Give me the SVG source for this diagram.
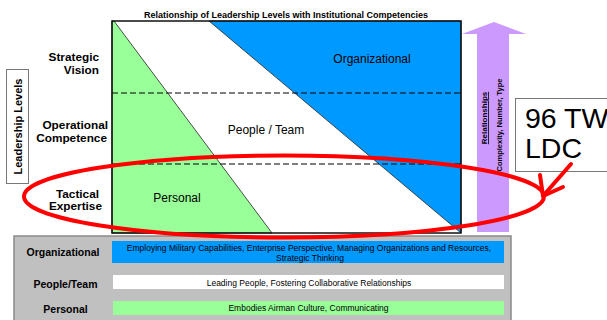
<svg xmlns="http://www.w3.org/2000/svg" width="607" height="320" viewBox="0 0 607 320">
<style>
.b{font-family:"Liberation Sans",Arial,sans-serif;font-weight:bold;fill:#000}
.r{font-family:"Liberation Sans",Arial,sans-serif;fill:#000}
.dash{stroke:#000;stroke-width:1;stroke-dasharray:6,3;fill:none}
.edge{stroke:#222;stroke-width:0.8}
.lv{font-size:11.8px}
.pt{font-size:8.5px}
</style>
<rect width="607" height="320" fill="#fff"/>
<g id="title"><text class="b" x="286" y="18" font-size="9" text-anchor="middle">Relationship of Leadership Levels with Institutional Competencies</text></g>
<g id="chart">
<rect x="112" y="21" width="349" height="212" fill="#fff"/>
<polygon points="112,21 114,21 272,233 112,233" fill="#99FF99" class="edge"/>
<polygon points="209,21 461,21 461,233" fill="#0099FF" class="edge"/>
<line class="dash" x1="112" y1="93" x2="461" y2="93"/>
<line class="dash" x1="112" y1="164" x2="461" y2="164"/>
<rect x="112" y="21" width="349" height="212" fill="none" stroke="#111" stroke-width="1.5"/>
<text class="r" x="372" y="63" font-size="12" text-anchor="middle">Organizational</text>
<text class="r" x="266" y="134" font-size="12" text-anchor="middle">People / Team</text>
<text class="r" x="177" y="202" font-size="12" text-anchor="middle">Personal</text>
</g>
<g id="levels">
<text class="b lv" x="99" y="61" text-anchor="end">Strategic</text>
<text class="b lv" x="99" y="74" text-anchor="end">Vision</text>
<text class="b lv" x="108" y="129" text-anchor="end">Operational</text>
<text class="b lv" x="107" y="142" text-anchor="end">Competence</text>
<text class="b lv" x="99" y="197.5" text-anchor="end">Tactical</text>
<text class="b lv" x="102" y="210" text-anchor="end">Expertise</text>
</g>
<g id="leadership-levels">
<rect x="6.5" y="69.5" width="22" height="114" fill="#fff" stroke="#777" stroke-width="1"/>
<text class="b" transform="translate(21.5,126.5) rotate(-90)" font-size="11" text-anchor="middle">Leadership Levels</text>
</g>
<g id="relationships">
<polygon points="494,22 526,34 509,34 509,232 477,232 477,34 462,34" fill="#CC99FF"/>
<text class="b" transform="translate(487,118) rotate(-90)" font-size="8" text-anchor="middle" text-decoration="underline">Relationships</text>
<text class="b" transform="translate(502,125) rotate(-90)" font-size="7.5" text-anchor="middle">Complexity, Number, Type</text>
</g>
<g id="panel">
<rect x="14" y="236" width="497" height="90" fill="#C0C0C0" stroke="#8a8a8a" stroke-width="1.5"/>
<text class="b" x="63" y="256" font-size="10.5" text-anchor="middle">Organizational</text>
<rect x="112" y="241" width="392" height="22" fill="#0099FF"/>
<text class="r pt" x="309" y="251" text-anchor="middle">Employing Military Capabilities, Enterprise Perspective, Managing Organizations  and Resources,</text>
<text class="r pt" x="310" y="261" text-anchor="middle">Strategic Thinking</text>
<text class="b" x="65.5" y="288" font-size="10.5" text-anchor="middle">People/Team</text>
<rect x="113" y="275" width="391" height="14" fill="#fff"/>
<text class="r pt" x="309" y="285.5" text-anchor="middle">Leading People, Fostering Collaborative Relationships</text>
<text class="b" x="65.5" y="313" font-size="10.5" text-anchor="middle">Personal</text>
<rect x="113" y="301" width="391" height="14" fill="#99FF99"/>
<text class="r pt" x="308.5" y="310.5" text-anchor="middle">Embodies Airman Culture,  Communicating</text>
</g>
<g id="ldc">
<rect x="515.5" y="98.5" width="100" height="73" fill="#fff" stroke="#777" stroke-width="1"/>
<text class="r" x="525" y="128" font-size="28.5">96 TW</text>
<text class="r" x="525" y="158" font-size="28.5">LDC</text>
</g>
<g id="connectors" fill="none" stroke="#FF0000" stroke-width="4" stroke-linecap="round" stroke-linejoin="round">
<ellipse cx="284" cy="196.5" rx="260" ry="41"/>
<line x1="571" y1="164" x2="543" y2="196"/>
<polyline points="540,175 543,196 563,187"/>
</g>
</svg>
